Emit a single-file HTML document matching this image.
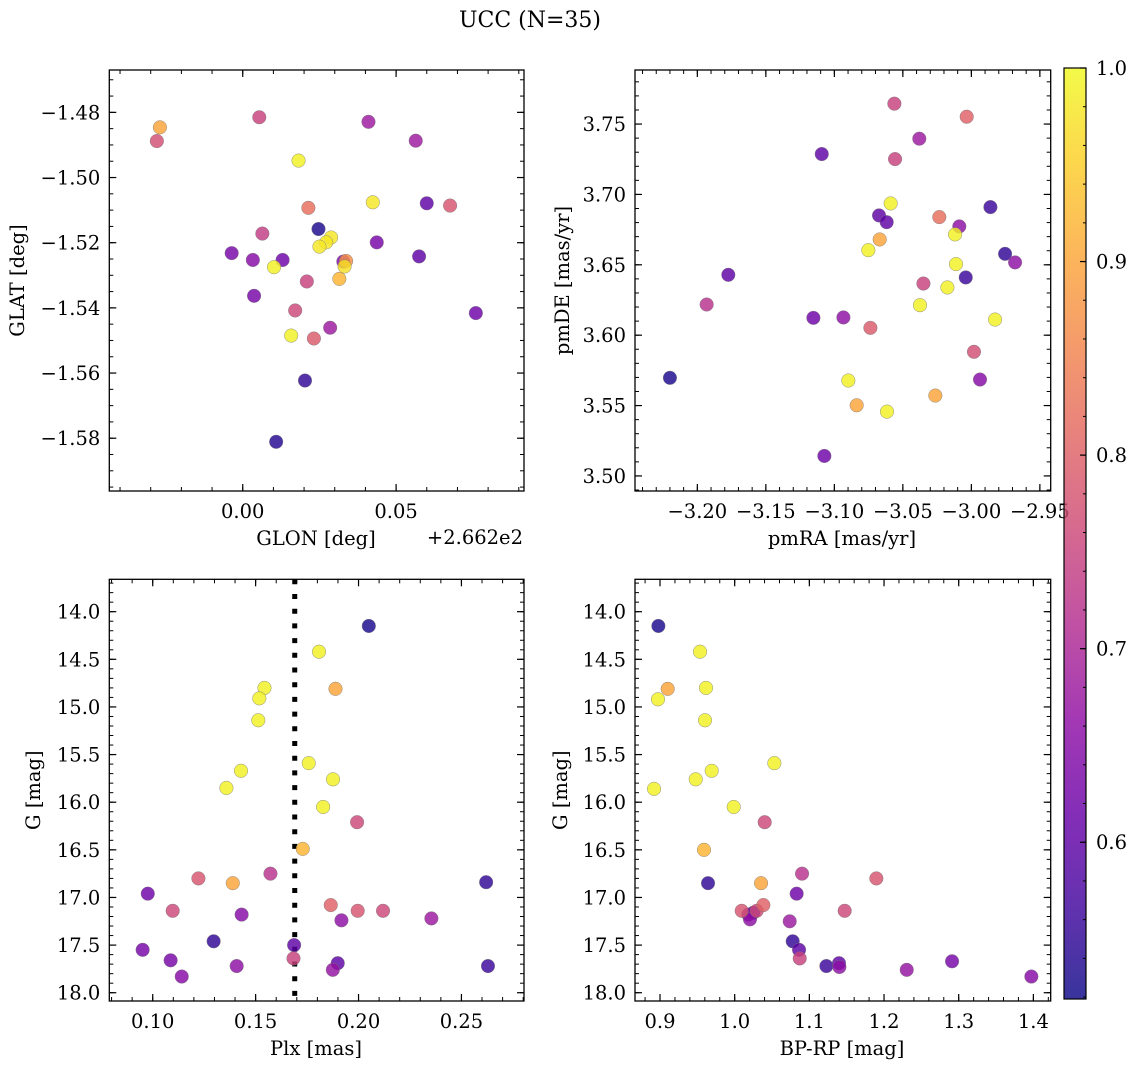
<!DOCTYPE html>
<html><head><meta charset="utf-8">
<style>
html,body{margin:0;padding:0;background:#fff;}
svg{display:block;font-family:"DejaVu Serif","Liberation Serif",serif;}
</style></head>
<body>
<svg id="fig" width="1136" height="1068" viewBox="0 0 1136 1068" xmlns="http://www.w3.org/2000/svg">
<text x="530" y="27" font-size="22" text-anchor="middle">UCC (N=35)</text>
</svg>
<script>
// ---- Panel 1: GLON (offset from 266.2) vs GLAT
const p1Glon=[-0.0270,-0.0280,0.0054,0.0410,0.0564,0.0182,0.0214,0.0424,0.0600,0.0676,0.0247,0.0064,0.0288,0.0272,0.0250,0.0437,-0.0036,0.0033,0.0130,0.0102,0.0328,0.0337,0.0332,0.0575,0.0315,0.0209,0.0037,0.0171,0.0158,0.0232,0.0285,0.0760,0.0203,0.0109];
const p1Glat=[-1.4846,-1.4888,-1.4815,-1.4829,-1.4887,-1.4948,-1.5093,-1.5076,-1.5079,-1.5086,-1.5158,-1.5172,-1.5184,-1.5199,-1.5212,-1.5199,-1.5232,-1.5253,-1.5253,-1.5275,-1.5258,-1.5256,-1.5273,-1.5242,-1.5311,-1.5319,-1.5363,-1.5408,-1.5485,-1.5494,-1.5461,-1.5416,-1.5623,-1.5811];
const p1Prob=[0.90,0.77,0.75,0.68,0.68,0.99,0.82,0.98,0.60,0.78,0.53,0.74,0.98,0.98,0.98,0.63,0.63,0.65,0.62,0.99,0.64,0.87,0.97,0.60,0.92,0.75,0.63,0.76,0.99,0.79,0.68,0.62,0.55,0.54];
const p1XTicks=[0.00,0.05];
const p1YTicks=[-1.48,-1.50,-1.52,-1.54,-1.56,-1.58];
// ---- Panel 2: pmRA vs pmDE
const p2PmRA=[-3.0562,-3.0034,-3.0380,-3.1092,-3.0557,-3.0589,-3.0674,-3.0618,-3.0234,-2.9861,-3.0088,-3.0119,-3.0669,-3.0752,-2.9754,-2.9681,-3.0112,-3.0041,-3.0350,-3.0175,-3.1774,-3.1932,-3.0375,-3.1153,-3.0934,-3.0737,-2.9827,-2.9981,-2.9937,-3.2200,-3.0898,-3.0837,-3.0616,-3.0263,-3.1073];
const p2PmDE=[3.7645,3.7552,3.7396,3.7287,3.7251,3.6936,3.6851,3.6803,3.6839,3.6910,3.6773,3.6716,3.6680,3.6604,3.6578,3.6517,3.6505,3.6410,3.6367,3.6339,3.6429,3.6218,3.6213,3.6123,3.6126,3.6052,3.6111,3.5882,3.5685,3.5697,3.5678,3.5502,3.5457,3.5571,3.5142];
const p2Prob=[0.75,0.80,0.68,0.60,0.75,0.99,0.60,0.60,0.82,0.56,0.66,0.99,0.90,0.99,0.55,0.66,0.99,0.56,0.75,0.99,0.60,0.72,0.99,0.62,0.66,0.79,0.99,0.77,0.65,0.53,0.99,0.90,0.99,0.90,0.62];
const p2XTicks=[-3.20,-3.15,-3.10,-3.05,-3.00,-2.95];
const p2YTicks=[3.50,3.55,3.60,3.65,3.70,3.75];
// ---- Panel 3: Plx vs G
const p3Plx=[0.2050,0.1808,0.1543,0.1518,0.1888,0.1513,0.1758,0.1429,0.1876,0.1358,0.1828,0.1993,0.1729,0.1222,0.1389,0.1572,0.0976,0.2620,0.1097,0.1432,0.1865,0.1996,0.2119,0.1917,0.2354,0.1296,0.1687,0.0951,0.1684,0.1087,0.1141,0.1408,0.1899,0.1875,0.2629];
const p3G=[14.15,14.42,14.80,14.91,14.81,15.14,15.59,15.67,15.76,15.85,16.05,16.21,16.49,16.80,16.85,16.75,16.96,16.84,17.14,17.18,17.08,17.14,17.14,17.24,17.22,17.46,17.50,17.55,17.64,17.66,17.83,17.72,17.69,17.76,17.72];
const p3Prob=[0.53,0.99,0.99,0.99,0.90,0.99,0.99,0.99,0.99,0.99,0.99,0.76,0.92,0.78,0.90,0.72,0.62,0.55,0.76,0.65,0.80,0.78,0.76,0.66,0.68,0.55,0.60,0.63,0.75,0.63,0.65,0.66,0.60,0.67,0.56];
const p3PlxLine=[0.169];
const p3XTicks=[0.10,0.15,0.20,0.25];
const gTicks=[14.0,14.5,15.0,15.5,16.0,16.5,17.0,17.5,18.0];
// ---- Panel 4: BP-RP vs G
const p4BpRp=[0.8978,0.9536,0.9103,0.9616,0.8973,0.9603,1.0531,0.9692,0.9478,0.8920,0.9987,1.0402,0.9589,1.0902,1.1897,0.9643,1.0353,1.0830,1.0384,1.0094,1.0295,1.1473,1.0183,1.0205,1.0737,1.0777,1.0862,1.0871,1.1228,1.1397,1.1402,1.2304,1.2911,1.3973,1.0250];
const p4G=[14.15,14.42,14.81,14.80,14.92,15.14,15.59,15.67,15.76,15.86,16.05,16.21,16.50,16.75,16.80,16.85,16.85,16.96,17.08,17.14,17.14,17.14,17.18,17.23,17.25,17.46,17.55,17.64,17.72,17.69,17.73,17.76,17.67,17.83,17.16];
const p4Prob=[0.53,0.99,0.90,0.99,0.99,0.99,0.99,0.99,0.99,0.99,0.99,0.76,0.92,0.72,0.78,0.55,0.90,0.62,0.80,0.78,0.76,0.76,0.65,0.66,0.68,0.55,0.60,0.75,0.56,0.60,0.66,0.67,0.63,0.65,0.60];
const p4XTicks=[0.9,1.0,1.1,1.2,1.3,1.4];
// ---- Colorbar
const cbTicks=[0.6,0.7,0.8,0.9,1.0];
const cbRange=[0.519,1.0];

const FS=19.5;
const NS='http://www.w3.org/2000/svg';
const svg=document.getElementById('fig');
const plasma=[[13,8,135],[65,4,157],[106,0,168],[143,13,164],[177,42,144],[204,71,120],[225,100,98],[242,132,75],[252,166,54],[252,206,37],[240,249,33]];
function cmap(p){
  let t=(p-cbRange[0])/(cbRange[1]-cbRange[0]);t=Math.max(0,Math.min(1,t));
  const f=t*10,i=Math.min(9,Math.floor(f)),u=f-i,a=plasma[i],b=plasma[i+1];
  return 'rgb('+a.map((v,k)=>Math.round(v+(b[k]-v)*u)).join(',')+')';
}
function el(tag,attrs,parent){const e=document.createElementNS(NS,tag);for(const k in attrs)e.setAttribute(k,attrs[k]);(parent||svg).appendChild(e);return e;}
function fmt(v,d){return v.toFixed(d).replace('-','\u2212');}
function lin(d0,d1,r0,r1){return v=>r0+(v-d0)/(d1-d0)*(r1-r0);}

function panel(o){
  const g=el('g',{});
  
  
  const sx=lin(o.xd[0],o.xd[1],o.L,o.R), sy=lin(o.yd[0],o.yd[1],o.T,o.B);
  const mk=(v0,v1,step,fn)=>{const s=Math.ceil(v0/step-1e-6);for(let k=s;k*step<=v1+1e-9;k++)fn(k*step);};
  mk(Math.min(...o.xd),Math.max(...o.xd),o.xMinor,v=>{const x=sx(v);
    el('line',{x1:x,x2:x,y1:o.B,y2:o.B-4,stroke:'#000','stroke-width':1},g);
    el('line',{x1:x,x2:x,y1:o.T,y2:o.T+4,stroke:'#000','stroke-width':1},g);});
  mk(Math.min(...o.yd),Math.max(...o.yd),o.yMinor,v=>{const y=sy(v);
    el('line',{x1:o.L,x2:o.L+4,y1:y,y2:y,stroke:'#000','stroke-width':1},g);
    el('line',{x1:o.R,x2:o.R-4,y1:y,y2:y,stroke:'#000','stroke-width':1},g);});
  o.xTicks.forEach(v=>{const x=sx(v);
    el('line',{x1:x,x2:x,y1:o.B,y2:o.B-7,stroke:'#000','stroke-width':1.2},g);
    el('line',{x1:x,x2:x,y1:o.T,y2:o.T+7,stroke:'#000','stroke-width':1.2},g);
    const t=el('text',{x:x,y:o.B+27,'font-size':FS,'text-anchor':'middle'},g);t.textContent=fmt(v,o.xDec);
    
    });
  o.yTicks.forEach(v=>{const y=sy(v);
    el('line',{x1:o.L,x2:o.L+7,y1:y,y2:y,stroke:'#000','stroke-width':1.2},g);
    el('line',{x1:o.R,x2:o.R-7,y1:y,y2:y,stroke:'#000','stroke-width':1.2},g);
    const t=el('text',{x:o.L-9,y:y+7,'font-size':FS,'text-anchor':'end'},g);t.textContent=fmt(v,o.yDec);
    
    });
  if(o.vline){o.vline.forEach(v=>{const l=el('line',{x1:sx(v),x2:sx(v),y1:o.T,y2:o.B,stroke:'#000','stroke-width':5,'stroke-dasharray':'5 9.7'},g);
    
    });}
  const idx=o.x.map((_,i)=>i).sort((a,b)=>o.c[a]-o.c[b]);
  idx.forEach(i=>{const c=el('circle',{cx:sx(o.x[i]),cy:sy(o.y[i]),r:6.8,fill:cmap(o.c[i]),'fill-opacity':0.82,stroke:'#777','stroke-width':0.5,'stroke-opacity':0.8},g);
    
    });
  const f=el('rect',{x:o.L,y:o.T,width:o.R-o.L,height:o.B-o.T,fill:'none',stroke:'#000','stroke-width':1.3},g);
  
  
  const xl=el('text',{x:o.xlx,y:o.B+54,'font-size':FS,'text-anchor':'middle'},g);xl.textContent=o.xlabel;
  
  
  const yl=el('text',{x:0,y:0,'font-size':FS,'text-anchor':'middle',transform:'translate('+o.ylx+','+((o.T+o.B)/2)+') rotate(-90)'},g);yl.textContent=o.ylabel;
  
  
}

panel({name:'glon-glat-panel',L:109.3,R:524,T:70,B:491,xd:[-0.0435,0.0917],yd:[-1.4670,-1.5962],x:p1Glon,y:p1Glat,c:p1Prob,
  xTicks:p1XTicks,yTicks:p1YTicks,xMinor:0.01,yMinor:0.005,xDec:2,yDec:2,xlabel:'GLON [deg]',ylabel:'GLAT [deg]',xlx:316,ylx:24});
panel({name:'pm-panel',L:635,R:1050.7,T:70,B:491,xd:[-3.2455,-2.9421],yd:[3.7884,3.4893],x:p2PmRA,y:p2PmDE,c:p2Prob,
  xTicks:p2XTicks,yTicks:p2YTicks,xMinor:0.01,yMinor:0.01,xDec:2,yDec:2,xlabel:'pmRA [mas/yr]',ylabel:'pmDE [mas/yr]',xlx:842,ylx:569});
panel({name:'plx-g-panel',L:109.3,R:524,T:579.3,B:1001,xd:[0.0789,0.2804],yd:[13.66,18.087],x:p3Plx,y:p3G,c:p3Prob,vline:p3PlxLine,
  xTicks:p3XTicks,yTicks:gTicks,xMinor:0.01,yMinor:0.1,xDec:2,yDec:1,xlabel:'Plx [mas]',ylabel:'G [mag]',xlx:316,ylx:40});
panel({name:'cmd-panel',L:635,R:1050.7,T:579.3,B:1001,xd:[0.8665,1.4232],yd:[13.66,18.087],x:p4BpRp,y:p4G,c:p4Prob,
  xTicks:p4XTicks,yTicks:gTicks,xMinor:0.02,yMinor:0.1,xDec:1,yDec:1,xlabel:'BP-RP [mag]',ylabel:'G [mag]',xlx:842,ylx:567});

const off=el('text',{x:523,y:544,'font-size':FS,'text-anchor':'end'});off.textContent='+2.662e2';



// colorbar
const cb=el('g',{});


const CL=1064,CR=1086,CT=68,CB=999;
const cy=lin(cbRange[0],cbRange[1],CB,CT);
const defs=el('defs',{},cb);
const grad=el('linearGradient',{id:'pg',x1:0,y1:1,x2:0,y2:0},defs);
for(let k=0;k<=20;k++){const p=cbRange[0]+k/20*(cbRange[1]-cbRange[0]);el('stop',{offset:k/20,'stop-color':cmap(p)},grad);}
el('rect',{x:CL,y:CT,width:CR-CL,height:CB-CT,fill:'url(#pg)','fill-opacity':0.82},cb);
for(let v=0.52;v<=1.0001;v+=0.02){const y=cy(v);el('line',{x1:CR,x2:CR-3,y1:y,y2:y,stroke:'#000','stroke-width':1},cb);}
cbTicks.forEach(v=>{const y=cy(v);el('line',{x1:CR,x2:CR-6,y1:y,y2:y,stroke:'#000','stroke-width':1.2},cb);
  const t=el('text',{x:CR+10,y:y+7,'font-size':FS},cb);t.textContent=v.toFixed(1);
  
  });
el('rect',{x:CL,y:CT,width:CR-CL,height:CB-CT,fill:'none',stroke:'#000','stroke-width':1.2},cb);
</script>
</body></html>
